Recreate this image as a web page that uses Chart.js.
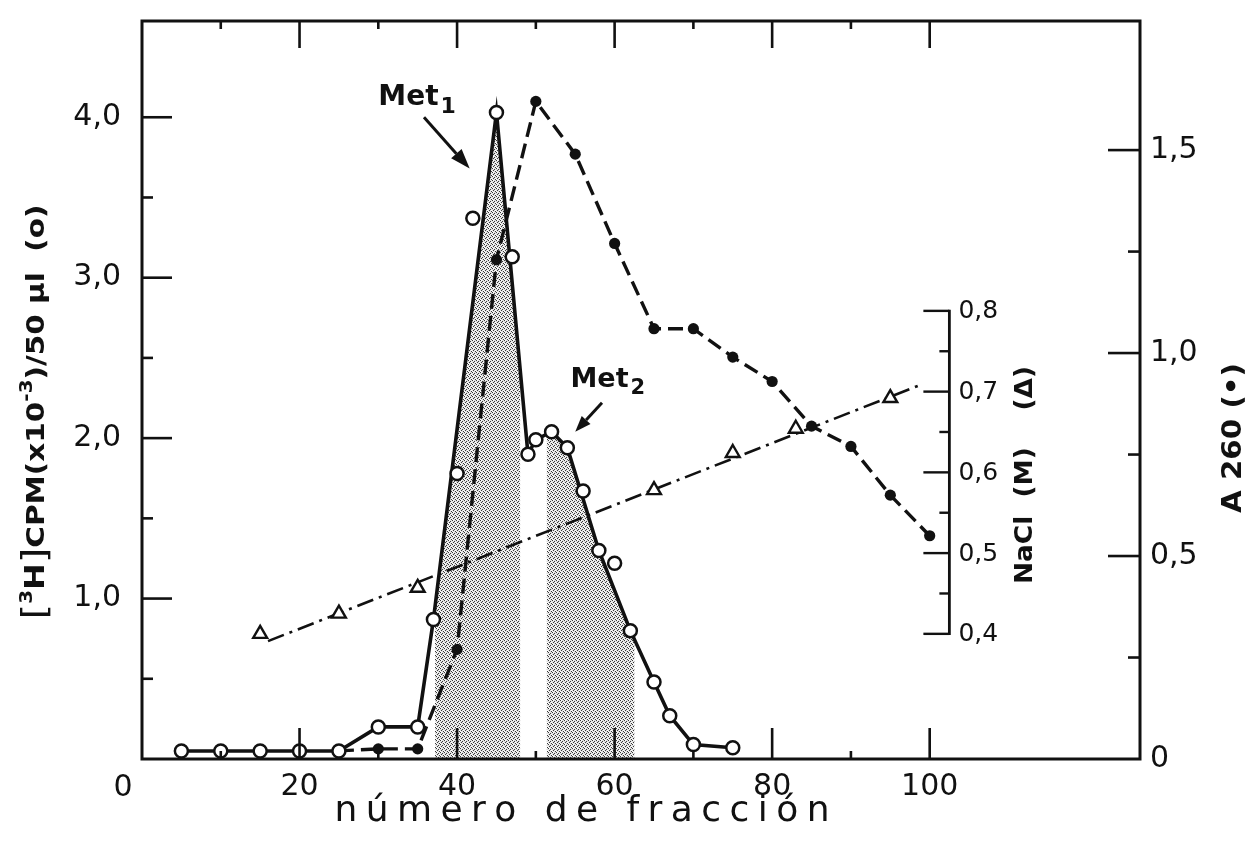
<!DOCTYPE html>
<html lang="es">
<head>
<meta charset="utf-8">
<title>Cromatografía de Met-ARNt</title>
<script src="https://cdn.jsdelivr.net/npm/chart.js@4.4.1/dist/chart.umd.min.js"></script>
<style>
  html, body { margin: 0; padding: 0; background: #fff; }
  #lienzo { display: block; }
</style>
</head>
<body>
<canvas id="lienzo" width="1250" height="843"></canvas>
<script>
// [3H] CPM por fracción (x10^-3 / 50 µl), círculos abiertos
const fraccionCPM = [5, 10, 15, 20, 25, 30, 35, 37, 40, 42, 45, 47, 49, 50, 52, 54, 56, 58, 60, 62, 65, 67, 70, 75];
const cpm         = [0.05, 0.05, 0.05, 0.05, 0.05, 0.20, 0.20, 0.87, 1.78, 3.37, 4.03, 3.13, 1.90, 1.99, 2.04, 1.94, 1.67, 1.30, 1.22, 0.80, 0.48, 0.27, 0.09, 0.07];
// puntos (índices de fraccionCPM) por los que pasa el trazo continuo del perfil
const puntosTrazo = [0, 1, 2, 3, 4, 5, 6, 7, 10, 12, 13, 14, 15, 17, 19, 20, 21, 22, 23];

// Absorbancia a 260 nm, círculos llenos
const fraccionA260 = [25, 30, 35, 40, 45, 50, 55, 60, 65, 70, 75, 80, 85, 90, 95, 100];
const a260         = [0.02, 0.025, 0.025, 0.27, 1.23, 1.62, 1.49, 1.27, 1.06, 1.06, 0.99, 0.93, 0.82, 0.77, 0.65, 0.55];

// Concentración de NaCl (M), triángulos, y recta del gradiente
const fraccionNaCl = [15, 25, 35, 65, 75, 83, 95];
const nacl         = [0.400, 0.425, 0.457, 0.578, 0.624, 0.654, 0.692];
const gradienteFraccion = [16, 99];
const gradienteNaCl     = [0.391, 0.709];

// Fracciones reunidas (zonas punteadas): Met1 y Met2
const fraccionesSombreadas = [[37.2, 48.0], [51.4, 62.5]];

// Marcas de los ejes
const ticksFraccion = [0, 20, 40, 60, 80, 100];
const ticksCPM      = [1, 2, 3, 4];
const ticksA260     = [0, 0.5, 1, 1.5];
const ticksNaCl     = [0.4, 0.5, 0.6, 0.7, 0.8];

const NEGRO = '#111';
const FUENTE = '"DejaVu Sans", "Liberation Sans", sans-serif';
const EJE_NACL = 102.5;   // fracción donde se dibuja el eje interior de NaCl

const coma = v => (v === 0 ? '0' : Number(v).toFixed(1).replace('.', ','));

// textura punteada para las zonas reunidas
function texturaPunteada(ctx) {
  const t = document.createElement('canvas');
  t.width = 4; t.height = 4;
  const c = t.getContext('2d');
  c.fillStyle = '#e2e2e2';
  c.fillRect(0, 0, 4, 4);
  c.fillStyle = '#ffffff';
  [[1, 0], [3, 2], [0, 3]].forEach(([px, py]) => c.fillRect(px, py, 1, 1));
  c.fillStyle = '#3a3a3a';
  [[0, 0], [2, 1], [1, 2], [3, 3]].forEach(([px, py]) => c.fillRect(px, py, 1, 1));
  return ctx.createPattern(t, 'repeat');
}

const sombreado = {
  id: 'sombreado',
  beforeDatasetsDraw(chart) {
    const { ctx, chartArea: a, scales: { x, y } } = chart;
    const pts = chart.getDatasetMeta(2).data;
    const y0 = y.getPixelForValue(0);
    ctx.save();
    ctx.beginPath();
    fraccionesSombreadas.forEach(([f1, f2]) => {
      const x1 = x.getPixelForValue(f1), x2 = x.getPixelForValue(f2);
      ctx.rect(x1, a.top, x2 - x1, y0 - a.top);
    });
    ctx.clip();
    ctx.beginPath();
    ctx.moveTo(pts[0].x, y0);
    pts.forEach(p => ctx.lineTo(p.x, p.y));
    ctx.lineTo(pts[pts.length - 1].x, y0);
    ctx.closePath();
    ctx.fillStyle = texturaPunteada(ctx);
    ctx.fill();
    ctx.restore();
  }
};

function linea(ctx, x1, y1, x2, y2) {
  ctx.beginPath(); ctx.moveTo(x1, y1); ctx.lineTo(x2, y2); ctx.stroke();
}

function flecha(ctx, x1, y1, x2, y2, largo, ancho) {
  const ang = Math.atan2(y2 - y1, x2 - x1);
  const bx = x2 - largo * Math.cos(ang), by = y2 - largo * Math.sin(ang);
  ctx.lineWidth = 3;
  linea(ctx, x1, y1, bx, by);
  ctx.beginPath();
  ctx.moveTo(x2, y2);
  ctx.lineTo(bx + ancho * Math.sin(ang), by - ancho * Math.cos(ang));
  ctx.lineTo(bx - ancho * Math.sin(ang), by + ancho * Math.cos(ang));
  ctx.closePath();
  ctx.fill();
}

function etiquetaMet(ctx, x, y, sub, size) {
  ctx.textAlign = 'left';
  ctx.textBaseline = 'middle';
  ctx.font = `bold ${size}px ${FUENTE}`;
  ctx.fillText('Met', x, y);
  const w = ctx.measureText('Met').width;
  ctx.font = `bold ${Math.round(size * 0.78)}px ${FUENTE}`;
  ctx.fillText(sub, x + w + 2, y + size * 0.32);
}

// texto vertical formado por tramos (para superíndices), ajustado a un largo dado
function textoVertical(ctx, tramos, cx, cy, largo) {
  let total = 0;
  tramos.forEach(r => {
    ctx.font = `${r.peso || 'bold'} ${r.size}px ${FUENTE}`;
    r.w = ctx.measureText(r.t).width;
    total += r.w;
  });
  ctx.save();
  ctx.translate(cx, cy);
  ctx.rotate(-Math.PI / 2);
  ctx.scale(largo / total, 1);
  ctx.textAlign = 'left';
  ctx.textBaseline = 'middle';
  let pos = -total / 2;
  tramos.forEach(r => {
    ctx.font = `${r.peso || 'bold'} ${r.size}px ${FUENTE}`;
    ctx.fillText(r.t, pos, r.dy || 0);
    pos += r.w;
  });
  ctx.restore();
}

function textoEspaciado(ctx, s, cx, cy, largo) {
  const letras = [...s];
  const ws = letras.map(c => ctx.measureText(c).width);
  const base = ws.reduce((p, q) => p + q, 0);
  const esp = (largo - base) / (letras.length - 1);
  let pos = cx - largo / 2;
  ctx.textAlign = 'left';
  letras.forEach((c, i) => { ctx.fillText(c, pos, cy); pos += ws[i] + esp; });
}

const marcas = {
  id: 'marcas',
  afterDraw(chart) {
    const { ctx, chartArea: a, scales: { x, y, yA, yN } } = chart;
    ctx.save();
    ctx.strokeStyle = NEGRO;
    ctx.fillStyle = NEGRO;

    // marco
    ctx.lineWidth = 3;
    ctx.strokeRect(a.left, a.top, a.right - a.left, a.bottom - a.top);

    ctx.lineWidth = 2.6;
    // eje izquierdo (CPM)
    ticksCPM.forEach(v => {
      const p = y.getPixelForValue(v);
      linea(ctx, a.left, p, a.left + 30, p);
      const m = y.getPixelForValue(v - 0.5);
      linea(ctx, a.left, m, a.left + 11, m);
    });
    // ejes inferior y superior (fracciones)
    ticksFraccion.slice(1).forEach(v => {
      const p = x.getPixelForValue(v);
      linea(ctx, p, a.bottom, p, a.bottom - 31);
      linea(ctx, p, a.top, p, a.top + 27);
      const m = x.getPixelForValue(v - 10);
      linea(ctx, m, a.bottom, m, a.bottom - 8);
      linea(ctx, m, a.top, m, a.top + 8);
    });
    // eje derecho (A260)
    ticksA260.slice(1).forEach(v => {
      const p = yA.getPixelForValue(v);
      linea(ctx, a.right, p, a.right - 32, p);
      const m = yA.getPixelForValue(v - 0.25);
      linea(ctx, a.right, m, a.right - 12, m);
    });

    // eje interior de NaCl
    const xn = x.getPixelForValue(EJE_NACL);
    ctx.lineWidth = 2.8;
    linea(ctx, xn, yN.getPixelForValue(ticksNaCl[0]) + 1.2, xn, yN.getPixelForValue(ticksNaCl[ticksNaCl.length - 1]) - 1.2);
    ctx.lineWidth = 2.4;
    ctx.font = `25px ${FUENTE}`;
    ctx.textAlign = 'left';
    ctx.textBaseline = 'middle';
    ticksNaCl.forEach((v, i) => {
      const p = yN.getPixelForValue(v);
      linea(ctx, xn - 26, p, xn, p);
      if (i > 0) {
        const m = yN.getPixelForValue(v - 0.05);
        linea(ctx, xn - 10, m, xn, m);
      }
      ctx.fillText(coma(v), xn + 9, p + 1);
    });

    // "0" del eje de fracciones, en la esquina
    ctx.font = `30px ${FUENTE}`;
    ctx.textAlign = 'center';
    ctx.fillText(String(ticksFraccion[0]), a.left - 19, a.bottom + 29);

    // títulos de los ejes
    textoVertical(ctx, [
      { t: '[', size: 34, peso: 'normal' },
      { t: '3', size: 17, dy: -9 },
      { t: 'H', size: 27 },
      { t: ']', size: 34, peso: 'normal' },
      { t: 'CPM', size: 25 },
      { t: '(x10', size: 25 },
      { t: '-3', size: 17, dy: -9 },
      { t: ')/50 µl  (o)', size: 25 }
    ], 37, 412, 415);
    textoVertical(ctx, [{ t: 'NaCl  (M)    (Δ)', size: 25 }], 1025, 475, 218);
    textoVertical(ctx, [{ t: 'A 260 (•)', size: 26 }], 1234, 438, 150);

    ctx.font = `36px ${FUENTE}`;
    ctx.textBaseline = 'middle';
    textoEspaciado(ctx, 'número de fracción', 582, 812, 495);

    // rótulos Met1 y Met2 con sus flechas
    etiquetaMet(ctx, x.getPixelForValue(30.0), y.getPixelForValue(4.12), '1', 28);
    flecha(ctx, x.getPixelForValue(35.8), y.getPixelForValue(4.00),
                x.getPixelForValue(41.6), y.getPixelForValue(3.68), 20, 7);
    etiquetaMet(ctx, x.getPixelForValue(54.4), y.getPixelForValue(2.36), '2', 27);
    flecha(ctx, x.getPixelForValue(58.4), y.getPixelForValue(2.22),
                x.getPixelForValue(55.0), y.getPixelForValue(2.04), 16, 6);

    ctx.restore();
  }
};

// los ejes verticales no reservan margen extra arriba ni abajo por sus rótulos
const sinMargenVertical = s => { s.paddingTop = 0; s.paddingBottom = 0; };

new Chart(document.getElementById('lienzo'), {
  type: 'scatter',
  data: {
    datasets: [
      {
        label: 'CPM',
        data: fraccionCPM.map((f, i) => ({ x: f, y: cpm[i] })),
        yAxisID: 'y',
        showLine: false,
        pointRadius: 6.5,
        pointBorderWidth: 2.5,
        pointBackgroundColor: '#fff',
        pointBorderColor: NEGRO
      },
      {
        label: 'NaCl',
        data: fraccionNaCl.map((f, i) => ({ x: f, y: nacl[i] })),
        yAxisID: 'yN',
        showLine: false,
        pointStyle: 'triangle',
        pointRadius: 8,
        pointBorderWidth: 2.4,
        pointBackgroundColor: '#fff',
        pointBorderColor: NEGRO
      },
      {
        label: 'perfil CPM',
        data: puntosTrazo.map(i => ({ x: fraccionCPM[i], y: cpm[i] })),
        yAxisID: 'y',
        showLine: true,
        borderColor: NEGRO,
        borderWidth: 3.6,
        pointRadius: 0,
        tension: 0
      },
      {
        label: 'A260',
        data: fraccionA260.map((f, i) => ({ x: f, y: a260[i] })),
        yAxisID: 'yA',
        showLine: true,
        borderColor: NEGRO,
        borderWidth: 3.4,
        borderDash: [15, 7],
        pointRadius: 5.6,
        pointBorderWidth: 0,
        pointBackgroundColor: NEGRO,
        pointBorderColor: NEGRO
      },
      {
        label: 'gradiente NaCl',
        data: gradienteFraccion.map((f, i) => ({ x: f, y: gradienteNaCl[i] })),
        yAxisID: 'yN',
        showLine: true,
        borderColor: NEGRO,
        borderWidth: 2.6,
        borderDash: [17, 6, 3, 6],
        pointRadius: 0
      }
    ]
  },
  options: {
    responsive: false,
    animation: false,
    events: [],
    layout: { autoPadding: false, padding: { top: 21, left: 0, right: 0, bottom: 0 } },
    plugins: { legend: { display: false }, tooltip: { enabled: false } },
    scales: {
      x: {
        type: 'linear',
        position: 'bottom',
        min: 0,
        max: 126.7,
        grid: { display: false, drawTicks: false },
        border: { display: false },
        afterBuildTicks: s => { s.ticks = ticksFraccion.map(v => ({ value: v })); },
        afterFit: s => { s.height = 84; },
        ticks: {
          padding: 10,
          color: NEGRO,
          autoSkip: false,
          maxRotation: 0,
          font: { family: FUENTE, size: 30 },
          callback: v => (v === 0 ? '' : String(v))
        }
      },
      y: {
        type: 'linear',
        position: 'left',
        min: 0,
        max: 4.6,
        grid: { display: false, drawTicks: false },
        border: { display: false },
        afterBuildTicks: s => { s.ticks = ticksCPM.map(v => ({ value: v })); },
        afterFit: s => { s.width = 142; sinMargenVertical(s); },
        ticks: {
          padding: 21,
          color: NEGRO,
          font: { family: FUENTE, size: 30 },
          callback: v => coma(v)
        }
      },
      yA: {
        type: 'linear',
        position: 'right',
        min: 0,
        max: 1.818,
        grid: { display: false, drawTicks: false },
        border: { display: false },
        afterBuildTicks: s => { s.ticks = ticksA260.map(v => ({ value: v })); },
        afterFit: s => { s.width = 110; sinMargenVertical(s); },
        ticks: {
          padding: 10,
          color: NEGRO,
          font: { family: FUENTE, size: 30 },
          callback: v => coma(v)
        }
      },
      yN: {
        type: 'linear',
        display: false,
        min: 0.245,
        max: 1.159,
        afterFit: sinMargenVertical
      }
    }
  },
  plugins: [sombreado, marcas]
});
</script>
</body>
</html>
